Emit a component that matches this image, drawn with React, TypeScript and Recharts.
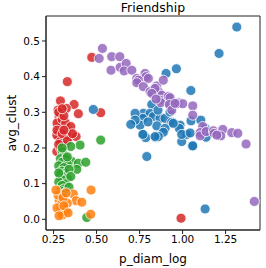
import { ScatterChart, Scatter, XAxis, YAxis, ReferenceArea } from 'recharts'

const FONT = '"DejaVu Sans", sans-serif'

// values, [p_diam_log, avg_clust]
const redPoints = [
    [0.472, 0.454], [0.33, 0.386], [0.29, 0.332], [0.369, 0.322], [0.394, 0.296], [0.524, 0.299],
    [0.324, 0.311], [0.276, 0.306], [0.282, 0.287], [0.286, 0.274], [0.286, 0.26], [0.28, 0.246],
    [0.282, 0.228], [0.33, 0.255], [0.34, 0.246], [0.346, 0.232], [0.381, 0.232], [0.311, 0.232],
    [0.298, 0.26], [0.269, 0.236], [0.327, 0.236], [0.288, 0.218], [0.269, 0.19], [0.317, 0.208],
    [0.27, 0.27], [0.3, 0.28], [0.32, 0.27], [0.28, 0.3], [0.31, 0.29], [0.27, 0.25], [0.3, 0.24],
    [0.33, 0.22], [0.29, 0.2], [0.28, 0.21], [0.35, 0.26], [0.3, 0.31], [0.36, 0.24], [0.31, 0.25],
    [0.991, 0.003],
]

const greenPoints = [
    [0.524, 0.222], [0.404, 0.208], [0.35, 0.204], [0.356, 0.162], [0.394, 0.157], [0.437, 0.16],
    [0.385, 0.14], [0.443, 0.005], [0.3, 0.19], [0.31, 0.18], [0.29, 0.17], [0.32, 0.17], [0.3, 0.16],
    [0.33, 0.155], [0.28, 0.15], [0.31, 0.145], [0.3, 0.135], [0.32, 0.13], [0.29, 0.125], [0.31, 0.12],
    [0.33, 0.115], [0.3, 0.11], [0.28, 0.105], [0.32, 0.1], [0.3, 0.095], [0.31, 0.085], [0.29, 0.08],
    [0.32, 0.075], [0.3, 0.07], [0.34, 0.14], [0.35, 0.12], [0.34, 0.09], [0.31, 0.06], [0.28, 0.13],
    [0.33, 0.175], [0.3, 0.2],
]

const orangePoints = [
    [0.468, 0.082], [0.365, 0.071], [0.381, 0.052], [0.414, 0.048], [0.466, 0.014], [0.282, 0.054],
    [0.292, 0.04], [0.292, 0.026], [0.321, 0.022], [0.301, 0.012], [0.33, 0.045], [0.276, 0.068],
    [0.305, 0.06], [0.27, 0.032], [0.31, 0.038], [0.334, 0.018], [0.282, 0.01], [0.264, 0.082],
    [0.323, 0.074],
]

const bluePoints = [
    [1.315, 0.539], [1.212, 0.465], [0.964, 0.422], [0.904, 0.409], [1.048, 0.361], [0.481, 0.308],
    [0.792, 0.176], [1.131, 0.029], [1.057, 0.205], [0.995, 0.218], [0.821, 0.322], [0.772, 0.297],
    [0.811, 0.297], [0.83, 0.288], [0.769, 0.283], [0.869, 0.283], [0.898, 0.283], [0.937, 0.272],
    [0.85, 0.262], [0.898, 0.255], [0.888, 0.244], [0.772, 0.238], [0.786, 0.229], [0.846, 0.229],
    [0.859, 0.232], [0.985, 0.264], [0.981, 0.255], [1.024, 0.238], [0.995, 0.238], [1.049, 0.276],
    [1.106, 0.278], [0.753, 0.264], [0.946, 0.269], [0.724, 0.297], [0.724, 0.278], [0.699, 0.266],
    [0.769, 0.238], [0.84, 0.232], [1.131, 0.255], [1.137, 0.23], [1.044, 0.242], [1.059, 0.206],
    [0.857, 0.306], [0.927, 0.301], [0.799, 0.273],
]

const purplePoints = [
    [0.534, 0.479], [0.515, 0.451], [0.588, 0.456], [0.635, 0.456], [0.584, 0.418], [0.637, 0.426],
    [0.672, 0.437], [0.66, 0.416], [0.705, 0.418], [0.734, 0.395], [0.782, 0.409], [0.788, 0.4],
    [0.743, 0.39], [0.801, 0.395], [0.734, 0.383], [0.85, 0.374], [0.772, 0.372], [0.811, 0.358],
    [0.859, 0.358], [0.879, 0.348], [0.869, 0.334], [0.917, 0.344], [0.873, 0.327], [0.927, 0.32],
    [0.976, 0.327], [0.888, 0.39], [0.84, 0.367], [0.821, 0.353], [0.927, 0.341], [0.923, 0.322],
    [0.97, 0.324], [1.001, 0.324], [1.059, 0.318], [1.059, 0.292], [0.937, 0.306], [1.117, 0.26],
    [1.102, 0.243], [1.102, 0.234], [1.137, 0.246], [1.179, 0.248], [1.183, 0.241], [1.234, 0.252],
    [1.222, 0.234], [1.286, 0.243], [1.321, 0.241], [1.369, 0.211], [1.417, 0.05], [0.846, 0.337],
    [0.956, 0.325], [1.199, 0.236],
]

const xTicks = [0.25, 0.5, 0.75, 1.0, 1.25]
const yTicks = [0, 0.1, 0.2, 0.3, 0.4, 0.5]
const xDomain = [0.206, 1.45]
const yDomain = [-0.03, 0.57]

const groups = [
    { name: 'red', color: '#d62728', points: redPoints },
    { name: 'green', color: '#2ca02c', points: greenPoints },
    { name: 'orange', color: '#ff7f0e', points: orangePoints },
    { name: 'blue', color: '#1f77b4', points: bluePoints },
    { name: 'purple', color: '#9467bd', points: purplePoints },
]

const dot = (color: string) => (props: any) => (
    <circle cx={props.cx} cy={props.cy} r={5} fill={color} fillOpacity={0.85} stroke="#fff" strokeWidth={0.8} />
)

export default function App() {
    const tickStyle = { fontSize: 10.5, fill: '#000', fontFamily: FONT }
    return (
        <div style={{ position: 'absolute', left: 0, top: 0, width: 266, height: 268, background: '#fff', fontFamily: FONT }}>
            <ScatterChart width={266} height={268} margin={{ top: 16, right: 6, left: 0, bottom: 0 }}>
                <XAxis
                    type="number"
                    dataKey="x"
                    domain={xDomain}
                    ticks={xTicks}
                    allowDataOverflow
                    height={38}
                    tickSize={4}
                    tickMargin={2}
                    stroke="#222"
                    tick={tickStyle}
                    tickFormatter={(v: number) => v.toFixed(2)}
                />
                <YAxis
                    type="number"
                    dataKey="y"
                    domain={yDomain}
                    ticks={yTicks}
                    allowDataOverflow
                    width={46}
                    tickSize={4}
                    tickMargin={2}
                    stroke="#222"
                    tick={tickStyle}
                    tickFormatter={(v: number) => v.toFixed(1)}
                />
                {groups.map(g => (
                    <Scatter
                        key={g.name}
                        data={g.points.map(([x, y]) => ({ x, y }))}
                        shape={dot(g.color)}
                        isAnimationActive={false}
                    />
                ))}
                <ReferenceArea x1={xDomain[0]} x2={xDomain[1]} y1={yDomain[0]} y2={yDomain[1]} fill="none" stroke="#222" ifOverflow="visible" />
            </ScatterChart>
            <div style={{ position: 'absolute', left: 46, width: 214, top: 0, textAlign: 'center', fontSize: 12.5, lineHeight: '15px' }}>
                Friendship
            </div>
            <div style={{ position: 'absolute', left: 46, width: 214, top: 252, textAlign: 'center', fontSize: 12, lineHeight: '14px' }}>
                p_diam_log
            </div>
            <div
                style={{
                    position: 'absolute',
                    left: 12,
                    top: 123,
                    fontSize: 12,
                    lineHeight: '14px',
                    whiteSpace: 'nowrap',
                    transform: 'translate(-50%, -50%) rotate(-90deg)',
                }}
            >
                avg_clust
            </div>
        </div>
    )
}
